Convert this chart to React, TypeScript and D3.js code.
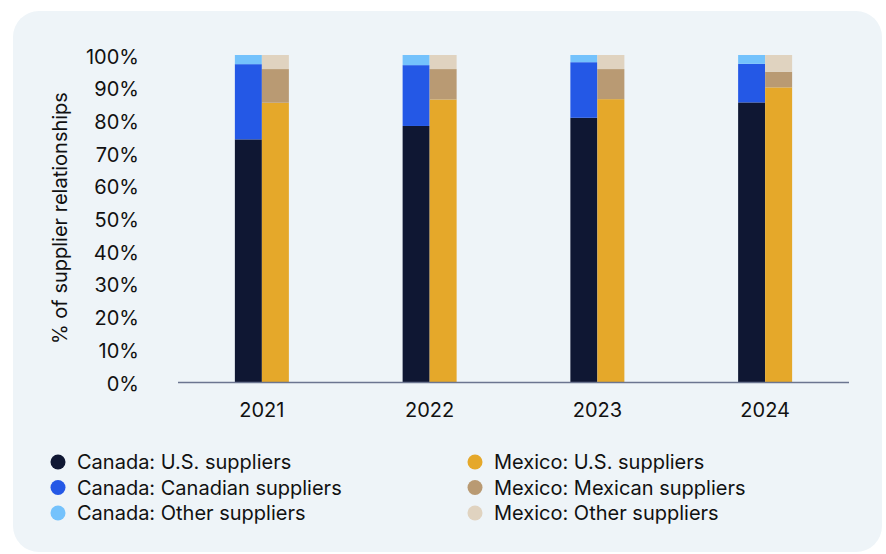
import React from "react";
import * as d3 from "d3";

const years = ["2021", "2022", "2023", "2024"];
const canadaUS = [74.2, 78.3, 80.8, 85.5];
const canadaCanadian = [23.0, 18.6, 17.0, 11.8];
const canadaOther = [2.8, 3.1, 2.2, 2.7];
const mexicoUS = [85.4, 86.4, 86.5, 90.1];
const mexicoMexican = [10.3, 9.3, 9.2, 4.8];
const mexicoOther = [4.3, 4.3, 4.3, 5.1];
const yTicks = [0, 10, 20, 30, 40, 50, 60, 70, 80, 90, 100];

const canadaSeries = [
  { name: "Canada: U.S. suppliers", values: canadaUS, color: "#0f1733" },
  { name: "Canada: Canadian suppliers", values: canadaCanadian, color: "#2458e6" },
  { name: "Canada: Other suppliers", values: canadaOther, color: "#74c2fc" },
];
const mexicoSeries = [
  { name: "Mexico: U.S. suppliers", values: mexicoUS, color: "#e5a82a" },
  { name: "Mexico: Mexican suppliers", values: mexicoMexican, color: "#b99a73" },
  { name: "Mexico: Other suppliers", values: mexicoOther, color: "#e0d3c0" },
];

const FONT = "Inter, 'Noto Sans', sans-serif";

export default function App() {
  const W = 886, H = 554;
  const x = d3.scaleBand<string>().domain(years).range([178, 849]);
  const y = d3.scaleLinear().domain([0, 100]).range([382, 55]);
  const bw = 27;

  const stackBars = (series: typeof canadaSeries, offset: number, key: string) =>
    years.map((yr, i) => {
      let acc = 0;
      const cx = (x(yr) as number) + x.bandwidth() / 2;
      return series.map((s, j) => {
        const v0 = acc;
        acc += s.values[i];
        return (
          <rect
            key={`${key}-${i}-${j}`}
            x={cx + offset}
            width={bw}
            y={y(acc)}
            height={y(v0) - y(acc)}
            fill={s.color}
          />
        );
      });
    });

  return (
    <svg
      width={W}
      height={H}
      style={{ position: "absolute", left: 0, top: 0, background: "#ffffff" }}
      fontFamily={FONT}
    >
      <rect x={13} y={11} width={869} height={541} rx={26} fill="#eef4f8" />
      {yTicks.map((t) => (
        <text
          key={t}
          x={139}
          y={y(t) + 1.5}
          dy="0.35em"
          textAnchor="end"
          fontSize={20}
          fill="#111"
        >
          {t}%
        </text>
      ))}
      <text
        transform={`translate(67,218) rotate(-90)`}
        textAnchor="middle"
        fontSize={20}
        fill="#111"
      >
        % of supplier relationships
      </text>
      {stackBars(canadaSeries, -bw, "c")}
      {stackBars(mexicoSeries, 0, "m")}
      <line x1={178} x2={849} y1={382.5} y2={382.5} stroke="#6b7590" strokeWidth={1.5} />
      {years.map((yr) => (
        <text
          key={yr}
          x={(x(yr) as number) + x.bandwidth() / 2}
          y={417}
          textAnchor="middle"
          fontSize={20}
          fill="#111"
        >
          {yr}
        </text>
      ))}
      {[canadaSeries, mexicoSeries].map((ser, c) =>
        ser.map((s, j) => (
          <g key={`${c}-${j}`} transform={`translate(${c === 0 ? 58 : 475},${462 + j * 25.5})`}>
            <circle r={7.5} fill={s.color} />
            <text x={19} dy="0.35em" fontSize={20} fill="#111">
              {s.name}
            </text>
          </g>
        ))
      )}
    </svg>
  );
}
